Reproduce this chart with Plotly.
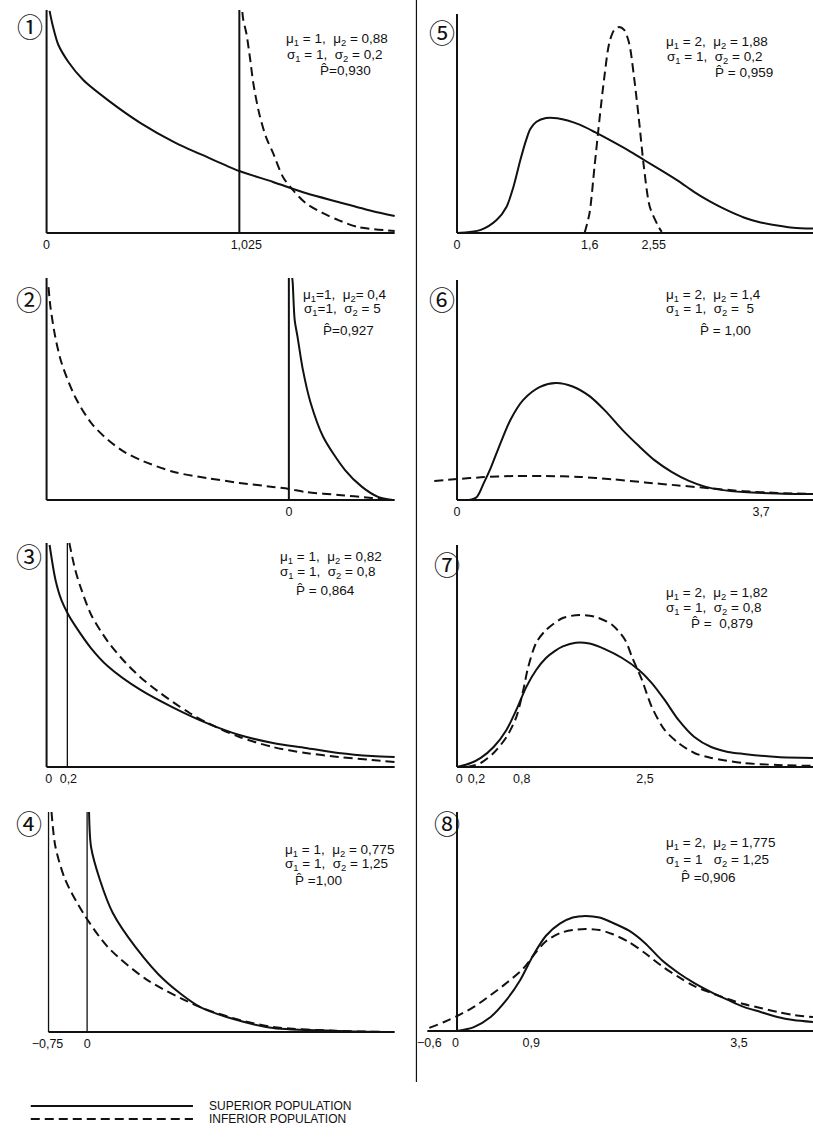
import plotly.graph_objects as go

W, H = 813, 1145

# ---------------- DATA (y = relative density, 100 = axis top) ----------------
# Panel 1: mu1=1, mu2=0.88, s1=1, s2=0.2
p1_sup_x = [0.016, 0.032, 0.063, 0.116, 0.195, 0.326, 0.50, 0.678, 0.852, 1.025, 1.204, 1.377, 1.551, 1.73, 1.851]
p1_sup_y = [99.6, 93.3, 84.3, 76.7, 68.6, 59.6, 49.3, 40.8, 34.1, 27.8, 22.9, 17.9, 13.9, 9.9, 7.6]
p1_inf_x = [1.041, 1.046, 1.062, 1.083, 1.099, 1.130, 1.167, 1.204, 1.257, 1.309, 1.377, 1.467, 1.551, 1.656, 1.851]
p1_inf_y = [99.1, 95.5, 89.7, 77.6, 67.3, 53.8, 43.0, 35.9, 25.1, 19.3, 13.5, 9.0, 5.8, 2.7, 0.9]
p1_vlines = [0.0, 1.025]
p1_base = [0.0, 1.851]
p1_tick_pos = [0.0, 1.062]
p1_tick_text = ["0", "1,025"]

# Panel 2: mu1=1, mu2=0.4, s1=1, s2=5
p2_sup_x = [0.07, 0.08, 0.12, 0.18, 0.29, 0.45, 0.71, 1.16, 1.51, 1.84, 2.14]
p2_sup_y = [100.0, 97.7, 81.1, 73.4, 58.6, 43.7, 28.4, 13.5, 5.9, 1.4, 0.0]
p2_inf_x = [-4.96, -4.92, -4.82, -4.69, -4.41, -4.08, -3.73, -3.39, -3.06, -2.37, -1.69, -1.02, -0.33, 0.0, 0.35, 1.02, 1.71, 2.14]
p2_inf_y = [95.9, 86.9, 73.4, 61.7, 46.4, 34.7, 27.0, 21.6, 18.0, 12.6, 9.9, 7.7, 5.9, 5.0, 3.6, 2.3, 0.9, 0.0]
p2_vlines = [-5.0, 0.0]
p2_base = [-5.0, 2.184]
p2_tick_pos = [0.0]
p2_tick_text = ["0"]

# Panel 3: mu1=1, mu2=0.82, s1=1, s2=0.8
p3_sup_x = [0.029, 0.086, 0.143, 0.21, 0.276, 0.429, 0.59, 0.905, 1.229, 1.543, 1.857, 2.181, 2.495, 2.81, 3.133, 3.352]
p3_sup_y = [99.1, 83.5, 74.5, 68.0, 63.0, 53.0, 45.0, 34.4, 26.3, 19.6, 14.3, 10.7, 8.5, 6.25, 4.9, 4.5]
p3_inf_x = [0.219, 0.276, 0.333, 0.429, 0.59, 0.752, 0.905, 1.067, 1.229, 1.381, 1.543, 1.857, 2.181, 2.495, 2.81, 3.133, 3.352]
p3_inf_y = [100.0, 88.0, 79.5, 68.0, 56.0, 47.0, 40.0, 34.0, 28.6, 24.0, 19.8, 13.4, 8.9, 6.25, 4.5, 3.1, 2.2]
p3_vlines = [0.0, 0.2]
p3_base = [0.0, 3.352]
p3_tick_pos = [0.02, 0.21]
p3_tick_text = ["0", "0,2"]

# Panel 4: mu1=1, mu2=0.775, s1=1, s2=1.25
p4_sup_x = [0.038, 0.077, 0.25, 0.5, 0.942, 1.5, 2.192, 2.846, 3.615, 4.885, 5.942]
p4_sup_y = [100.0, 84.1, 69.1, 54.1, 38.6, 23.6, 11.4, 5.9, 1.8, 0.5, 0.0]
p4_inf_x = [-0.692, -0.615, -0.423, -0.077, 0.404, 1.173, 2.192, 2.962, 3.615, 4.885, 5.942]
p4_inf_y = [100.0, 84.1, 69.1, 54.1, 38.6, 23.6, 11.4, 5.5, 2.3, 0.5, 0.0]
p4_vlines = [-0.75, 0.0]
p4_base = [-0.75, 5.981]
p4_tick_pos = [-0.77, 0.0]
p4_tick_text = ["\u22120,75", "0"]

# Panel 5: mu1=2, mu2=1.88, s1=1, s2=0.2
p5_sup_x = [0, 0.308, 0.513, 0.641, 0.731, 0.821, 0.897, 0.95, 1.03, 1.154, 1.30, 1.59, 1.795, 2.013, 2.231, 2.436, 2.654, 2.872, 3.077, 3.295, 3.513, 3.718, 3.936, 4.154, 4.359, 4.615]
p5_sup_y = [0, 1.4, 5.9, 11.9, 21.0, 33.3, 42.5, 47.5, 50.8, 52.5, 52.4, 49.5, 45.9, 41.8, 37.5, 33.1, 28.5, 23.7, 18.7, 14.1, 10.2, 7.1, 4.8, 3.4, 2.4, 2.0]
p5_inf_x = [1.654, 1.718, 1.782, 1.846, 1.910, 1.974, 2.038, 2.103, 2.167, 2.231, 2.295, 2.359, 2.423, 2.5, 2.615, 2.654]
p5_inf_y = [0, 9.1, 30.1, 51.6, 71.2, 86.8, 92.7, 94.1, 92.7, 86.8, 71.2, 51.6, 30.1, 11.9, 2.7, 0.5]
p5_vlines = [0.0]
p5_base = [0.0, 4.7]
p5_tick_pos = [0.0, 1.72, 2.55]
p5_tick_text = ["0", "1,6", "2,55"]

# Panel 6: mu1=2, mu2=1.4, s1=1, s2=5
p6_sup_x = [0.129, 0.215, 0.29, 0.365, 0.472, 0.579, 0.719, 0.901, 1.073, 1.255, 1.438, 1.609, 1.792, 1.974, 2.146, 2.328, 2.511, 2.682, 2.865, 3.112, 3.476, 3.863]
p6_sup_y = [0, 1.4, 7.7, 14.5, 25.9, 36.4, 45.5, 51.4, 53.2, 51.6, 47.2, 40.5, 32.0, 24.5, 18.0, 12.8, 8.8, 6.2, 4.6, 3.6, 3.0, 2.7]
p6_inf_x = [-0.247, 0, 0.258, 0.612, 0.966, 1.33, 1.685, 2.039, 2.403, 2.757, 3.112, 3.476, 3.863]
p6_inf_y = [8.6, 9.5, 10.3, 10.9, 10.9, 10.5, 9.4, 8.0, 6.6, 5.3, 4.0, 3.2, 2.7]
p6_vlines = [0.0]
p6_base = [0.0, 3.95]
p6_tick_pos = [0.0, 3.3]
p6_tick_text = ["0", "3,7"]

# Panel 7: mu1=2, mu2=1.82, s1=1, s2=0.8
p7_sup_x = [0, 0.184, 0.316, 0.487, 0.658, 0.789, 0.921, 1.053, 1.184, 1.30, 1.408, 1.579, 1.763, 1.974, 2.197, 2.421, 2.592, 2.763, 2.947, 3.158, 3.382, 3.605, 3.816, 4.263, 4.737]
p7_sup_y = [0, 1.8, 4.1, 9.0, 16.7, 25.7, 36.0, 43.7, 49.1, 52.2, 54.3, 56.0, 55.6, 53.0, 49.1, 43.7, 37.8, 30.2, 21.2, 13.5, 9.0, 6.8, 5.9, 4.5, 4.1]
p7_inf_x = [0.132, 0.316, 0.487, 0.658, 0.789, 0.882, 0.947, 1.053, 1.184, 1.408, 1.632, 1.842, 2.066, 2.237, 2.329, 2.461, 2.592, 2.763, 2.947, 3.158, 3.382, 3.816, 4.263, 4.737]
p7_inf_y = [0, 1.8, 6.3, 13.5, 22.5, 34.7, 45.0, 55.9, 61.7, 67.1, 68.5, 67.6, 64.0, 57.2, 49.5, 39.2, 27.0, 16.7, 10.8, 6.3, 4.1, 1.8, 0.9, 0.5]
p7_vlines = [0.0]
p7_base = [0.0, 4.85]
p7_tick_pos = [0.03, 0.26, 0.86, 2.5]
p7_tick_text = ["0", "0,2", "0,8", "2,5"]

# Panel 8: mu1=2, mu2=1.775, s1=1, s2=1.25
p8_sup_x = [0, 0.204, 0.408, 0.6, 0.767, 0.923, 1.079, 1.247, 1.403, 1.559, 1.727, 1.882, 2.086, 2.278, 2.482, 2.686, 2.878, 3.082, 3.285, 3.477, 3.681, 3.885, 4.077, 4.317]
p8_sup_y = [0, 1.8, 6.4, 14.2, 23.3, 34.5, 43.5, 49.0, 51.8, 52.5, 51.8, 49.5, 45.8, 40.2, 32.4, 26.5, 21.9, 17.8, 14.2, 11.0, 8.7, 6.4, 5.0, 4.1]
p8_inf_x = [-0.336, -0.156, 0, 0.204, 0.408, 0.6, 0.803, 0.947, 1.079, 1.247, 1.403, 1.559, 1.727, 1.882, 2.086, 2.278, 2.482, 2.686, 2.878, 3.082, 3.285, 3.477, 3.681, 3.885, 4.077, 4.317]
p8_inf_y = [1.4, 4.1, 6.8, 11.0, 16.4, 21.9, 28.5, 35.5, 41.0, 44.7, 46.1, 46.6, 46.1, 44.3, 40.6, 35.6, 29.7, 24.7, 20.5, 17.4, 14.6, 12.3, 10.5, 8.7, 7.3, 6.4]
p8_vlines = [0.0]
p8_base = [-0.36, 4.4]
p8_tick_pos = [-0.336, -0.02, 0.9, 3.42]
p8_tick_text = ["\u22120,6", "0", "0,9", "3,5"]

panel_numbers = ["\u2460", "\u2461", "\u2462", "\u2463", "\u2464", "\u2465", "\u2466", "\u2467"]

S = "\u00a0"
P = "P\u0302"
p1_text = ["\u03bc<sub>1</sub> = 1," + S * 2 + "\u03bc<sub>2</sub> = 0,88", "\u03c3<sub>1</sub> = 1," + S * 2 + "\u03c3<sub>2</sub> = 0,2", P + "=0,930"]
p2_text = ["\u03bc<sub>1</sub>=1," + S * 2 + "\u03bc<sub>2</sub>= 0,4", "\u03c3<sub>1</sub>=1," + S * 2 + "\u03c3<sub>2</sub> = 5", P + "=0,927"]
p3_text = ["\u03bc<sub>1</sub> = 1," + S * 2 + "\u03bc<sub>2</sub> = 0,82", "\u03c3<sub>1</sub> = 1," + S * 2 + "\u03c3<sub>2</sub> = 0,8", P + " = 0,864"]
p4_text = ["\u03bc<sub>1</sub> = 1," + S * 2 + "\u03bc<sub>2</sub> = 0,775", "\u03c3<sub>1</sub> = 1," + S * 2 + "\u03c3<sub>2</sub> = 1,25", P + " =1,00"]
p5_text = ["\u03bc<sub>1</sub> = 2," + S * 2 + "\u03bc<sub>2</sub> = 1,88", "\u03c3<sub>1</sub> = 1," + S * 2 + "\u03c3<sub>2</sub> = 0,2", P + " = 0,959"]
p6_text = ["\u03bc<sub>1</sub> = 2," + S * 2 + "\u03bc<sub>2</sub> = 1,4", "\u03c3<sub>1</sub> = 1," + S * 2 + "\u03c3<sub>2</sub> =" + S * 2 + "5", P + " = 1,00"]
p7_text = ["\u03bc<sub>1</sub> = 2," + S * 2 + "\u03bc<sub>2</sub> = 1,82", "\u03c3<sub>1</sub> = 1," + S * 2 + "\u03c3<sub>2</sub> = 0,8", P + " =" + S * 2 + "0,879"]
p8_text = ["\u03bc<sub>1</sub> = 2," + S * 2 + "\u03bc<sub>2</sub> = 1,775", "\u03c3<sub>1</sub> = 1" + S * 3 + "\u03c3<sub>2</sub> = 1,25", P + " =0,906"]

legend_labels = ["SUPERIOR POPULATION", "INFERIOR POPULATION"]

# ---------------- LAYOUT GEOMETRY (pixels) ----------------
# left px, right px, top px, baseline px, x value at left px, x value at right px
geo = [
    (38, 390, 10, 233, 0.0, 1.851),
    (38, 390, 278, 500, -5.0, 2.184),
    (38, 390, 543, 767, 0.0, 3.352),
    (38, 390, 812, 1032, -0.788, 5.981),
    (418, 813, 14, 233, -0.449, 4.615),
    (418, 813, 280, 500, -0.376, 3.863),
    (418, 813, 545, 767, -0.461, 4.737),
    (418, 813, 812, 1031, -0.42, 4.317),
]
# text block positions: (x of line1, x of line2, x of line3, y1, y2, y3)
text_pos = [
    (278, 279, 312, 40, 55, 70),
    (295, 296, 315, 295, 310, 330),
    (272, 272, 288, 557, 572, 590),
    (277, 277, 287, 850, 864, 880),
    (662, 663, 712, 43, 58, 72),
    (662, 662, 697, 295, 310, 330),
    (662, 662, 688, 593, 608, 623),
    (662, 662, 678, 843, 860, 877),
]
num_pos = [(21, 25), (20, 298), (20, 555), (20, 822), (438, 32), (438, 298), (443, 563), (443, 822)]
thick_vlines = [[True, True], [True, True], [True, False], [False, False], [True], [True], [True], [True]]

panels = [
    (p1_sup_x, p1_sup_y, p1_inf_x, p1_inf_y, p1_vlines, p1_base, p1_tick_pos, p1_tick_text, p1_text),
    (p2_sup_x, p2_sup_y, p2_inf_x, p2_inf_y, p2_vlines, p2_base, p2_tick_pos, p2_tick_text, p2_text),
    (p3_sup_x, p3_sup_y, p3_inf_x, p3_inf_y, p3_vlines, p3_base, p3_tick_pos, p3_tick_text, p3_text),
    (p4_sup_x, p4_sup_y, p4_inf_x, p4_inf_y, p4_vlines, p4_base, p4_tick_pos, p4_tick_text, p4_text),
    (p5_sup_x, p5_sup_y, p5_inf_x, p5_inf_y, p5_vlines, p5_base, p5_tick_pos, p5_tick_text, p5_text),
    (p6_sup_x, p6_sup_y, p6_inf_x, p6_inf_y, p6_vlines, p6_base, p6_tick_pos, p6_tick_text, p6_text),
    (p7_sup_x, p7_sup_y, p7_inf_x, p7_inf_y, p7_vlines, p7_base, p7_tick_pos, p7_tick_text, p7_text),
    (p8_sup_x, p8_sup_y, p8_inf_x, p8_inf_y, p8_vlines, p8_base, p8_tick_pos, p8_tick_text, p8_text),
]

FONT = "Liberation Sans, Arial, sans-serif"
INK = "#111111"


def px_x(p):
    return p / W


def px_y(p):
    return 1 - p / H


fig = go.Figure()
layout = dict(
    width=W, height=H, margin=dict(l=0, r=0, t=0, b=0),
    paper_bgcolor="white", plot_bgcolor="rgba(0,0,0,0)",
    showlegend=False, font=dict(family=FONT, color=INK),
)
shapes = []
annotations = []

PAD = 6
BPAD = 2
for i, (sx, sy, ix, iy, vl, base, tpos, ttext, txt) in enumerate(panels):
    n = i + 1
    xa = "xaxis" if n == 1 else f"xaxis{n}"
    ya = "yaxis" if n == 1 else f"yaxis{n}"
    xr = "x" if n == 1 else f"x{n}"
    yr = "y" if n == 1 else f"y{n}"
    L, R, T, B, v0, v1 = geo[i]
    scale = (R - L) / (v1 - v0)
    dL = L - PAD
    dR = min(R + PAD, W)
    r0 = v0 - (L - dL) / scale
    r1 = v1 + (dR - R) / scale
    h = B - T
    dT = T - PAD
    dB = B + BPAD
    yr0 = -BPAD * 100 / h
    yr1 = 100 + PAD * 100 / h
    layout[xa] = dict(domain=[px_x(dL), px_x(dR)], range=[r0, r1], anchor=yr,
                      showgrid=False, zeroline=False, showline=False, ticks="",
                      tickmode="array", tickvals=tpos, ticktext=ttext,
                      tickfont=dict(family=FONT, size=12.5, color=INK), fixedrange=True)
    layout[ya] = dict(domain=[px_y(dB), px_y(dT)], range=[yr0, yr1], anchor=xr,
                      visible=False, fixedrange=True)

    fig.add_trace(go.Scatter(x=sx, y=sy, xaxis=xr, yaxis=yr, mode="lines",
                             line=dict(color=INK, width=2, shape="spline", smoothing=0.8),
                             name=legend_labels[0], hoverinfo="skip"))
    fig.add_trace(go.Scatter(x=ix, y=iy, xaxis=xr, yaxis=yr, mode="lines",
                             line=dict(color=INK, width=2, dash="9px,5px", shape="spline", smoothing=0.8),
                             name=legend_labels[1], hoverinfo="skip"))
    shapes.append(dict(type="line", xref=xr, yref=yr, x0=base[0], x1=base[1], y0=0, y1=0,
                       line=dict(color=INK, width=2)))
    for v, thick in zip(vl, thick_vlines[i]):
        shapes.append(dict(type="line", xref=xr, yref=yr, x0=v, x1=v, y0=0, y1=100,
                           line=dict(color=INK, width=2 if thick else 1.3)))
    tx1, tx2, tx3, ty1, ty2, ty3 = text_pos[i]
    for t, tx, ty in zip(txt, (tx1, tx2, tx3), (ty1, ty2, ty3)):
        annotations.append(dict(text=t, x=px_x(tx), y=px_y(ty), xref="paper", yref="paper",
                                xanchor="left", yanchor="middle", showarrow=False,
                                font=dict(family=FONT, size=13.5, color=INK)))
    nx, ny = num_pos[i]
    annotations.append(dict(text=panel_numbers[i], x=px_x(nx), y=px_y(ny), xref="paper", yref="paper",
                            xanchor="center", yanchor="middle", showarrow=False,
                            font=dict(family="Noto Sans CJK JP, DejaVu Sans", size=26, color=INK)))

# column divider
shapes.append(dict(type="line", xref="paper", yref="paper", x0=px_x(412), x1=px_x(412),
                   y0=px_y(0), y1=px_y(1082), line=dict(color=INK, width=1.2)))

# legend (bottom-left)
leg_y = [1106, 1119]
leg_dash = ["solid", "9px,5px"]
for lab, ly, dsh in zip(legend_labels, leg_y, leg_dash):
    shapes.append(dict(type="line", xref="paper", yref="paper", x0=px_x(22), x1=px_x(186),
                       y0=px_y(ly), y1=px_y(ly), line=dict(color=INK, width=2, dash=dsh)))
    annotations.append(dict(text=lab, x=px_x(200), y=px_y(ly), xref="paper", yref="paper",
                            xanchor="left", yanchor="middle", showarrow=False,
                            font=dict(family=FONT, size=12, color=INK)))

layout["shapes"] = shapes
layout["annotations"] = annotations
fig.update_layout(**layout)
fig.write_html("out.html", config={"displayModeBar": False},
               post_script="document.body.style.margin='0';document.body.style.overflow='hidden';")
